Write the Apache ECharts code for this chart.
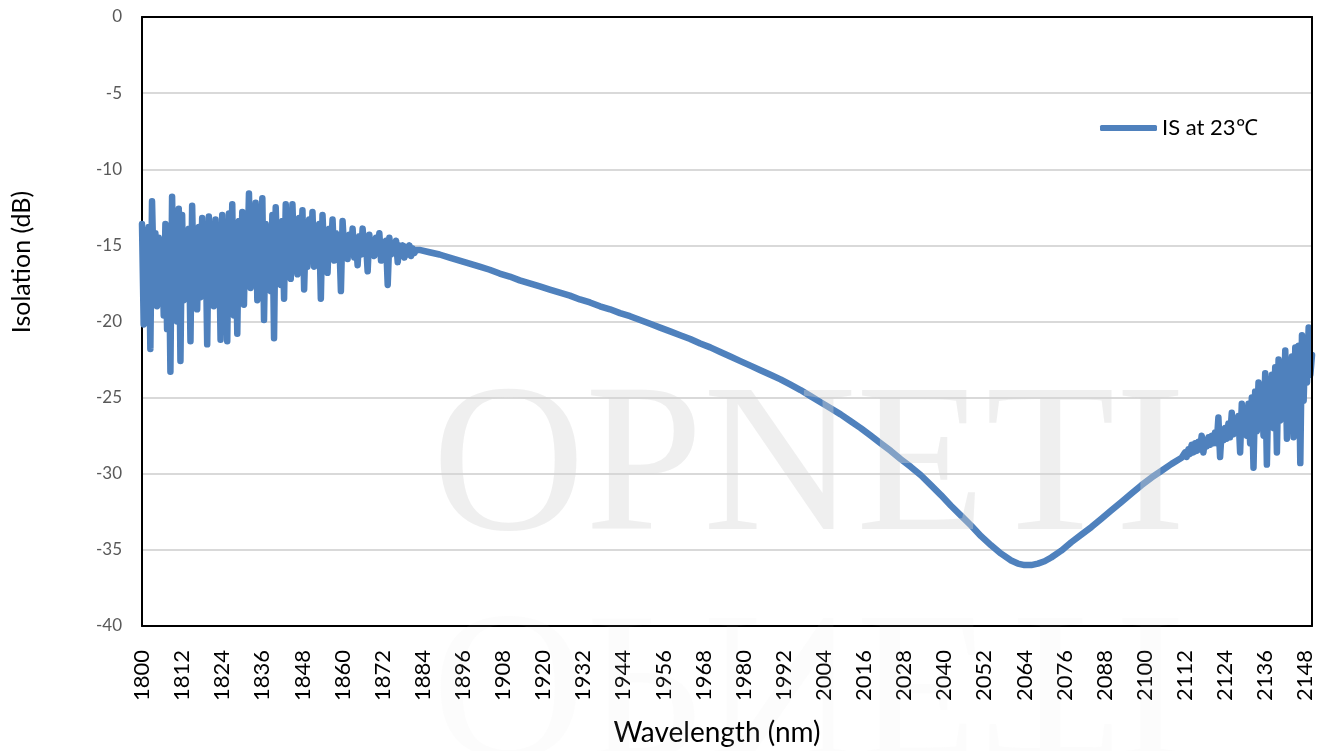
<!DOCTYPE html>
<html>
<head>
<meta charset="utf-8">
<script src="https://cdn.jsdelivr.net/npm/echarts@6/dist/echarts.min.js"></script>
<style>
html,body{margin:0;padding:0;background:#fff;}
#chart{width:1327px;height:751px;}
</style>
</head>
<body>
<div id="chart"></div>
<script>
// ---- Data ----
const seriesName = 'IS at 23℃';
const xTitle = 'Wavelength (nm)';
const yTitle = 'Isolation (dB)';
const watermarkText = 'OPNETI';

// Noisy start of the band (nm)
const leftWl = [
  1800,1800.5,1801,1801.5,1802,1802.5,1803,1803.5,1804,1804.5,
  1805,1805.5,1806,1806.5,1807,1807.5,1808,1808.5,1809,1809.5,
  1810,1810.5,1811,1811.5,1812,1812.5,1813,1813.5,1814,1814.5,
  1815,1815.5,1816,1816.5,1817,1817.5,1818,1818.5,1819,1819.5,
  1820,1820.5,1821,1821.5,1822,1822.5,1823,1823.5,1824,1824.5,
  1825,1825.5,1826,1826.5,1827,1827.5,1828,1828.5,1829,1829.5,
  1830,1830.5,1831,1831.5,1832,1832.5,1833,1833.5,1834,1834.5,
  1835,1835.5,1836,1836.5,1837,1837.5,1838,1838.5,1839,1839.5,
  1840,1840.5,1841,1841.5,1842,1842.5,1843,1843.5,1844,1844.5,
  1845,1845.5,1846,1846.5,1847,1847.5,1848,1848.5,1849,1849.5,
  1850,1850.5,1851,1851.5,1852,1852.5,1853,1853.5,1854,1854.5,
  1855,1855.5,1856,1856.5,1857,1857.5,1858,1858.5,1859,1859.5,
  1860,1860.5,1861,1861.5,1862,1862.5,1863,1863.5,1864,1864.5,
  1865,1865.5,1866,1866.5,1867,1867.5,1868,1868.5,1869,1869.5,
  1870,1870.5,1871,1871.5,1872,1872.5,1873,1873.5,1874,1874.5,
  1875,1875.5,1876,1876.5,1877,1877.5,1878,1878.5,1879,1879.5,
  1880,1880.5,1881,1881.5,1882
];
const leftIso = [
  -13.6,-20.2,-14.0,-17.5,-13.8,-21.8,-12.1,-16.8,-14.2,-19.0,
  -14.5,-17.9,-15.0,-19.6,-13.6,-20.5,-14.2,-23.3,-11.8,-18.0,
  -13.9,-20.0,-12.6,-22.6,-13.0,-18.6,-14.4,-17.5,-13.9,-21.3,
  -12.4,-17.8,-14.2,-19.2,-13.8,-18.4,-13.2,-16.6,-14.0,-21.5,
  -13.1,-17.2,-14.4,-19.0,-13.3,-16.8,-14.1,-21.2,-13.0,-18.0,
  -13.8,-21.3,-12.9,-17.4,-12.3,-19.6,-13.7,-20.8,-13.4,-17.0,
  -12.8,-18.9,-13.1,-16.2,-11.6,-17.8,-13.5,-16.6,-12.2,-18.6,
  -13.8,-17.0,-11.9,-19.9,-13.6,-16.5,-14.2,-18.0,-13.0,-21.1,
  -12.5,-16.2,-14.0,-17.6,-13.4,-18.5,-12.3,-16.0,-14.1,-17.2,
  -12.3,-15.8,-13.9,-16.9,-13.2,-16.0,-12.7,-17.9,-14.0,-16.4,
  -13.3,-15.6,-12.8,-16.4,-14.2,-15.5,-13.6,-18.5,-13.0,-15.6,
  -14.3,-16.8,-13.9,-15.5,-13.3,-16.0,-14.2,-15.6,-14.5,-18.0,
  -13.4,-15.4,-14.6,-15.9,-14.3,-15.5,-13.9,-15.8,-14.6,-16.3,
  -14.4,-15.6,-13.9,-15.4,-14.8,-16.7,-14.3,-15.5,-14.7,-15.7,
  -14.5,-15.4,-14.2,-16.0,-14.8,-15.5,-14.7,-17.6,-14.5,-15.6,
  -14.9,-15.5,-14.7,-16.1,-15.0,-15.6,-15.0,-15.8,-15.1,-15.6,
  -15.0,-15.7,-15.2,-15.5,-15.3
];

// Smooth middle part
const midWl = [
  1883,1886,1889,1892,1895,1898,1901,1904,1907,1910,
  1913,1916,1919,1922,1925,1928,1931,1934,1937,1940,
  1943,1946,1949,1952,1955,1958,1961,1964,1967,1970,
  1973,1976,1979,1982,1985,1988,1991,1994,1997,2000,
  2003,2006,2009,2012,2015,2018,2021,2024,2027,2030,
  2033,2036,2039,2042,2045,2048,2051,2054,2057,2060,
  2062,2064,2066,2068,2070,2072,2075,2078,2081,2084,
  2087,2090,2093,2096,2099,2102,2105,2108,2111
];
const midIso = [
  -15.3,-15.45,-15.6,-15.8,-16.0,-16.2,-16.4,-16.6,-16.85,-17.05,
  -17.3,-17.5,-17.7,-17.9,-18.1,-18.3,-18.55,-18.75,-19.0,-19.2,
  -19.45,-19.65,-19.9,-20.15,-20.4,-20.65,-20.9,-21.15,-21.45,-21.7,
  -22.0,-22.3,-22.6,-22.9,-23.2,-23.5,-23.8,-24.15,-24.5,-24.9,
  -25.3,-25.7,-26.1,-26.55,-27.0,-27.5,-28.0,-28.5,-29.05,-29.55,
  -30.1,-30.75,-31.4,-32.1,-32.75,-33.4,-34.1,-34.7,-35.25,-35.7,
  -35.9,-36.0,-36.0,-35.9,-35.75,-35.5,-35.05,-34.5,-34.0,-33.5,
  -32.95,-32.4,-31.85,-31.3,-30.75,-30.25,-29.8,-29.35,-28.95
];

// Noisy end of the band
const rightWl = [
  2112,2112.5,2113,2113.5,2114,2114.5,2115,2115.5,2116,2116.5,
  2117,2117.5,2118,2118.5,2119,2119.5,2120,2120.5,2121,2121.5,
  2122,2122.5,2123,2123.5,2124,2124.5,2125,2125.5,2126,2126.5,
  2127,2127.5,2128,2128.5,2129,2129.5,2130,2130.5,2131,2131.5,
  2132,2132.5,2133,2133.5,2134,2134.5,2135,2135.5,2136,2136.5,
  2137,2137.5,2138,2138.5,2139,2139.5,2140,2140.5,2141,2141.5,
  2142,2142.5,2143,2143.5,2144,2144.5,2145,2145.5,2146,2146.5,
  2147,2147.5,2148,2148.5,2149,2149.5,2150
];
const rightIso = [
  -28.6,-28.9,-28.4,-28.7,-28.1,-28.6,-28.0,-28.5,-27.9,-28.4,
  -27.5,-28.6,-27.8,-28.2,-27.6,-28.1,-27.5,-28.0,-27.3,-28.0,
  -26.3,-28.9,-27.1,-27.8,-27.0,-27.7,-26.7,-27.6,-26.0,-27.4,
  -26.5,-27.2,-26.2,-28.6,-25.4,-27.0,-26.0,-27.5,-25.4,-28.0,
  -25.0,-29.6,-24.6,-27.2,-24.0,-26.9,-24.6,-27.5,-23.4,-29.4,
  -23.8,-26.8,-23.5,-27.0,-23.0,-28.6,-22.5,-26.5,-23.2,-26.2,
  -21.9,-27.7,-22.6,-26.0,-22.3,-27.6,-21.7,-25.8,-21.6,-29.3,
  -20.9,-25.2,-21.2,-24.0,-20.4,-23.5,-22.2
];

// ---- Build the series data ----
const wl = leftWl.concat(midWl, rightWl);
const iso = leftIso.concat(midIso, rightIso);
const data = wl.map((x, i) => [x, iso[i]]);

const FONT = 'Lato';
const frameLine = {show: true, onZero: false, lineStyle: {color: '#000', width: 2}};
const chart = echarts.init(document.getElementById('chart'), null, {renderer: 'canvas'});
chart.setOption({
  animation: false,
  backgroundColor: '#ffffff',
  grid: {left: 142, top: 17, right: 15, bottom: 125, show: false},
  legend: {
    show: true,
    left: 1100, top: 117,
    padding: 0,
    icon: 'roundRect',
    itemWidth: 57, itemHeight: 6,
    textStyle: {fontFamily: FONT, fontSize: 22, color: '#000'},
    data: [seriesName]
  },
  xAxis: [{
    type: 'value',
    min: 1800, max: 2150, interval: 12,
    axisLine: frameLine,
    axisTick: {show: false},
    splitLine: {show: false},
    z: 5,
    axisLabel: {
      rotate: 90, margin: 24, showMaxLabel: false,
      formatter: v => String(v),
      fontFamily: FONT, fontSize: 22, color: '#000'
    }
  }, {
    type: 'value', position: 'top',
    min: 1800, max: 2150, interval: 12,
    axisLine: frameLine, axisTick: {show: false}, axisLabel: {show: false}, splitLine: {show: false},
    z: 5
  }],
  yAxis: [{
    type: 'value',
    min: -40, max: 0, interval: 5,
    axisLine: frameLine,
    axisTick: {show: false},
    splitLine: {show: true, lineStyle: {color: '#D9D9D9', width: 2}},
    axisLabel: {margin: 20, fontFamily: FONT, fontSize: 17, color: '#595959'},
    z: 0
  }, {
    type: 'value', position: 'right',
    min: -40, max: 0, interval: 5,
    axisLine: frameLine, axisTick: {show: false}, axisLabel: {show: false}, splitLine: {show: false},
    z: 5
  }],
  series: [{
    name: seriesName,
    type: 'line',
    data: data,
    xAxisIndex: 0, yAxisIndex: 0,
    showSymbol: false,
    symbol: 'none',
    clip: true,
    color: '#4F81BD',
    lineStyle: {color: '#4F81BD', width: 6.5, cap: 'round', join: 'round'},
    z: 2
  }],
  graphic: [
    {
      type: 'text', x: 22, y: 262, rotation: Math.PI / 2,
      style: {text: yTitle, font: '25px ' + FONT, fill: '#000',
        align: 'center', verticalAlign: 'middle', textAlign: 'center', textVerticalAlign: 'middle'}
    },
    {
      type: 'text', x: 717, y: 733,
      style: {text: xTitle, font: '28px ' + FONT, fill: '#000',
        align: 'center', verticalAlign: 'middle', textAlign: 'center', textVerticalAlign: 'middle'}
    },
    {
      type: 'text', x: 432, y: 473, z: 50, silent: true,
      style: {text: watermarkText, font: '212px "Liberation Serif"', fill: 'rgba(213,213,213,0.38)',
        align: 'left', verticalAlign: 'middle', textAlign: 'left', textVerticalAlign: 'middle'}
    },
    {
      type: 'text', x: 432, y: 674, scaleY: -1, z: 50, silent: true,
      style: {text: watermarkText, font: '212px "Liberation Serif"', fill: 'rgba(213,213,213,0.07)',
        align: 'left', verticalAlign: 'middle', textAlign: 'left', textVerticalAlign: 'middle'}
    }
  ]
});
</script>
</body>
</html>
